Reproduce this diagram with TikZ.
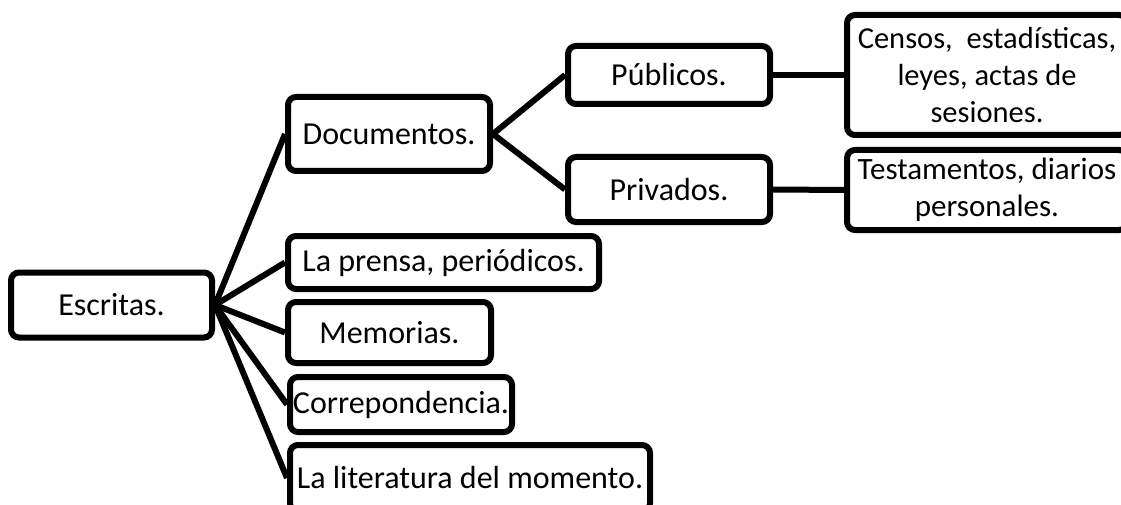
\documentclass[tikz,border=0pt]{standalone}
\usepackage{fontspec}
\setmainfont{Carlito}
\begin{document}
\begin{tikzpicture}[x=1pt,y=-1pt,
  box/.style={draw=black, fill=white, line width=6pt, rounded corners=8pt,
    inner sep=0pt, align=center, font=\fontsize{32}{37}\selectfont},
  link/.style={draw=black, line width=6pt}]
\useasboundingbox (0,0) rectangle (1121,505);
\begin{scope}
\clip (0,0) rectangle (1121,505);
\node[box, minimum width=201pt, minimum height=65pt] (esc) at (111.5,305) {Escritas.};
\node[box, minimum width=202pt, minimum height=74pt] (doc) at (389,134) {Documentos.};
\node[box, minimum width=202pt, minimum height=58pt] (pub) at (669,75) {Públicos.};
\node[box, minimum width=202pt, minimum height=65pt] (priv) at (669,189.5) {Privados.};
\node[box, minimum width=280pt, minimum height=120pt, font=\fontsize{30.5}{37}\selectfont] (cen) at (987,75) {Censos,~ estadísticas,\\leyes, actas de\\sesiones.};
\node[box, minimum width=280pt, minimum height=80pt, font=\fontsize{31}{37}\selectfont] (tes) at (987,190) {Testamentos, diarios\\personales.};
\node[box, minimum width=311pt, minimum height=53pt] (pre) at (443.5,262.5) {La prensa, periódicos.};
\node[box, minimum width=203pt, minimum height=61pt] (mem) at (389.5,332.5) {Memorias.};
\node[box, minimum width=222pt, minimum height=55pt] (cor) at (401,404.5) {Correpondencia.};
\node[box, minimum width=360pt, minimum height=66pt] (lit) at (470,478) {La literatura del momento.};
\path[link] (esc.east) -- (doc.west);
\path[link] (esc.east) -- (pre.west);
\path[link] (esc.east) -- (mem.west);
\path[link] (esc.east) -- (cor.west);
\path[link] (esc.east) -- (lit.west);
\path[link] (doc.east) -- (pub.west);
\path[link] (doc.east) -- (priv.west);
\path[link] (pub.east) -- (cen.west);
\path[link] (priv.east) -- (tes.west);
\end{scope}
\end{tikzpicture}
\end{document}
